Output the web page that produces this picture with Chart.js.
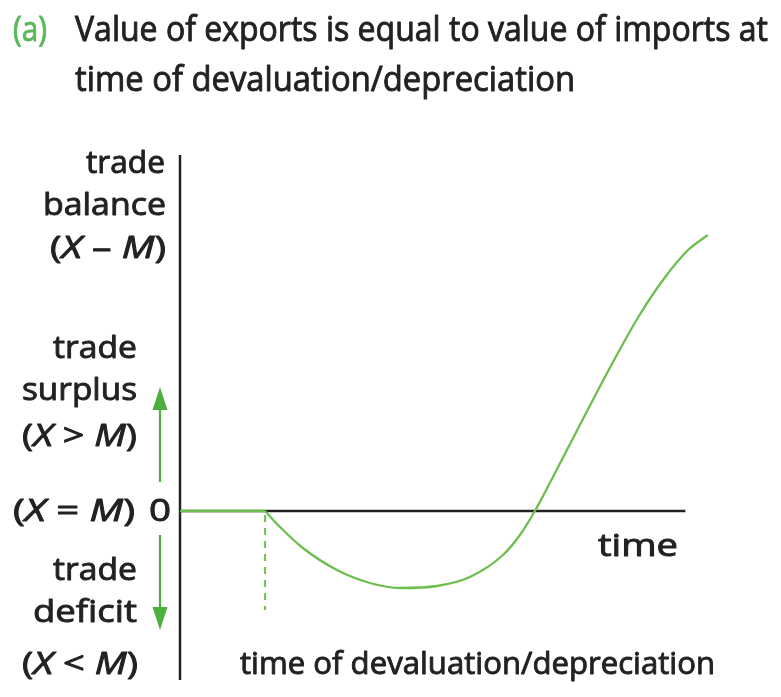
<!DOCTYPE html>
<html>
<head>
<meta charset="utf-8">
<script src="https://cdn.jsdelivr.net/npm/chart.js@4.4.1/dist/chart.umd.min.js"></script>
<style>
  html, body { margin: 0; padding: 0; background: #ffffff; }
  #wrap { width: 781px; height: 697px; position: relative; }
</style>
</head>
<body>
<div id="wrap"><canvas id="c" width="781" height="697"></canvas></div>
<script>
// ---- data ----
const flatTimes   = [0, 16.0];
const flatVals    = [0, 0];
const timeVals    = [16.0, 18.8, 23.1, 29.5, 35.7, 41.4, 48.3, 54.5, 60.7, 63.9, 66.7, 70.1, 77.6, 81.8, 86.5, 91.2, 95.5, 99.2];
const balanceVals = [0, -1.6, -3.7, -5.9, -7.2, -7.7, -7.5, -6.6, -4.4, -2.4, 0, 3.4, 11.1, 15.3, 19.7, 23.4, 26.1, 27.6];
const devaluationTime = 16.0;
const dashedRange = [-0.4, -9.9];
const xAxisEnd = 95;
const xRange = [0, 100];
const yRange = [-16.9, 35.6];

const titlePrefix = "(a)";
const titleLines = ["Value of exports is equal to value of imports at", "time of devaluation/depreciation"];
const yAxisTitle = ["trade", "balance", [["(", 0], ["X", 1], [" \u2013 ", 0], ["M", 1], [")", 0]]];
const surplusLabel = ["trade", "surplus", [["(", 0], ["X", 1], [" > ", 0], ["M", 1], [")", 0]]];
const zeroLabel = [["(", 0], ["X", 1], [" = ", 0], ["M", 1], [")", 0]];
const zeroTick = "0";
const deficitLabel = ["trade", "deficit", [["(", 0], ["X", 1], [" < ", 0], ["M", 1], [")", 0]]];
const xAxisTitle = "time";
const devaluationLabel = "time of devaluation/depreciation";

const INK = '#222222';
const CURVE = '#6cbf4e';
const ARROW = '#4daf3d';
const FONT = '"Open Sans", "Noto Sans", sans-serif';

const toPts = (xs, ys) => xs.map((t, i) => ({ x: t, y: ys[i] }));

function fontStr(it, size) { return (it ? 'italic ' : '') + size + 'px ' + FONT; }
function runsWidth(ctx, runs, size) {
  let w = 0;
  for (const [t, it] of runs) { ctx.font = fontStr(it, size); w += ctx.measureText(t).width; }
  return w;
}
function drawFit(ctx, text, x0, x1, baseline, size, color) {
  const runs = typeof text === 'string' ? [[text, 0]] : text;
  const w = runsWidth(ctx, runs, size);
  const s = (x1 - x0) / w;
  ctx.save();
  ctx.fillStyle = color;
  ctx.strokeStyle = color;
  ctx.lineWidth = 0.9;
  ctx.lineJoin = 'round';
  ctx.textBaseline = 'alphabetic';
  ctx.textAlign = 'left';
  ctx.translate(x0, baseline);
  ctx.scale(s, 1);
  let x = 0;
  for (const [t, it] of runs) {
    ctx.font = fontStr(it, size);
    ctx.fillText(t, x, 0);
    ctx.strokeText(t, x, 0);
    x += ctx.measureText(t).width;
  }
  ctx.restore();
}
function arrow(ctx, x, yFrom, yTip, color) {
  const dir = yTip < yFrom ? -1 : 1;
  const headLen = 23, headHalf = 7.5;
  ctx.save();
  ctx.strokeStyle = color; ctx.fillStyle = color; ctx.lineWidth = 2.2;
  ctx.beginPath();
  ctx.moveTo(x, yFrom);
  ctx.lineTo(x, yTip - dir * headLen + dir * 2);
  ctx.stroke();
  ctx.beginPath();
  ctx.moveTo(x, yTip);
  ctx.lineTo(x - headHalf, yTip - dir * headLen);
  ctx.lineTo(x + headHalf, yTip - dir * headLen);
  ctx.closePath();
  ctx.fill();
  ctx.restore();
}

const textPlugin = {
  id: 'texts',
  afterDraw(chart) {
    const ctx = chart.ctx;
    const zeroY = chart.scales.y.getPixelForValue(0);
    const T = 35;
    drawFit(ctx, titlePrefix, 13, 47, 41, T, '#5cb85c');
    drawFit(ctx, titleLines[0], 75, 768, 41, T, INK);
    drawFit(ctx, titleLines[1], 75, 575, 91, T, INK);
    const L = 31;
    drawFit(ctx, yAxisTitle[0], 86, 165, 173, L, INK);
    drawFit(ctx, yAxisTitle[1], 43, 166, 215, L, INK);
    drawFit(ctx, yAxisTitle[2], 50, 166, 258, L, INK);
    drawFit(ctx, surplusLabel[0], 53, 137, 358, L, INK);
    drawFit(ctx, surplusLabel[1], 22, 137, 400, L, INK);
    drawFit(ctx, surplusLabel[2], 22, 137, 446, L, INK);
    drawFit(ctx, zeroLabel, 13, 135, zeroY + 10, L, INK);
    drawFit(ctx, zeroTick, 149, 171, zeroY + 10, L, INK);
    drawFit(ctx, deficitLabel[0], 53, 137, 580, L, INK);
    drawFit(ctx, deficitLabel[1], 33, 137, 622, L, INK);
    drawFit(ctx, deficitLabel[2], 22, 138, 674, L, INK);
    drawFit(ctx, xAxisTitle, 598, 678, 556, L, INK);
    drawFit(ctx, devaluationLabel, 240, 715, 674, L, INK);
    arrow(ctx, 160, 482, 387, ARROW);
    arrow(ctx, 160, 535, 630, ARROW);
  }
};

new Chart(document.getElementById('c'), {
  type: 'line',
  data: {
    datasets: [
      {
        label: 'trade balance',
        data: toPts(timeVals, balanceVals),
        borderColor: CURVE, borderWidth: 2.3, pointRadius: 0,
        cubicInterpolationMode: 'monotone', fill: false, order: 0, clip: false
      },
      {
        label: 'trade balance (before)',
        data: toPts(flatTimes, flatVals),
        borderColor: CURVE, borderWidth: 2.3, pointRadius: 0,
        fill: false, order: 0, clip: false
      },
      {
        label: 'x axis',
        data: [{ x: xRange[0], y: 0 }, { x: xAxisEnd, y: 0 }],
        borderColor: INK, borderWidth: 2.5, pointRadius: 0, order: 3, clip: false
      },
      {
        label: 'y axis',
        data: [{ x: xRange[0], y: yRange[0] }, { x: xRange[0], y: yRange[1] }],
        borderColor: INK, borderWidth: 2.5, pointRadius: 0, order: 3, clip: false
      },
      {
        label: 'devaluation',
        data: [{ x: devaluationTime, y: dashedRange[0] }, { x: devaluationTime, y: dashedRange[1] }],
        borderColor: CURVE, borderWidth: 2, borderDash: [7, 6], pointRadius: 0, order: 1, clip: false
      }
    ]
  },
  options: {
    responsive: false,
    animation: false,
    layout: { padding: { left: 180, right: 69, top: 155, bottom: 17 } },
    plugins: { legend: { display: false }, tooltip: { enabled: false }, title: { display: false } },
    scales: {
      x: { type: 'linear', min: xRange[0], max: xRange[1], display: false },
      y: { type: 'linear', min: yRange[0], max: yRange[1], display: false }
    }
  },
  plugins: [textPlugin]
});
</script>
</body>
</html>
